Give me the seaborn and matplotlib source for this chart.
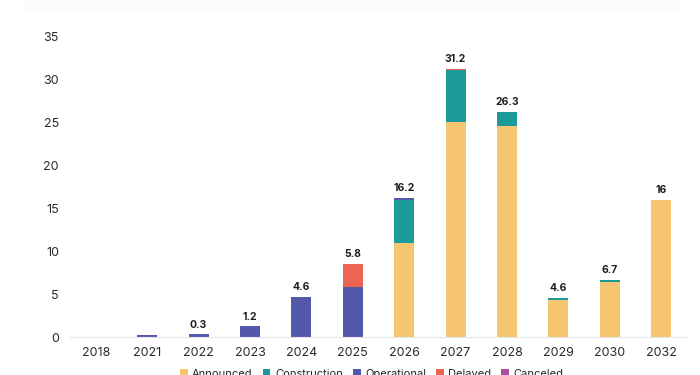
import numpy as np
import pandas as pd
import matplotlib
matplotlib.use("Agg")
import matplotlib.pyplot as plt
import seaborn as sns
from matplotlib.patches import Patch, Rectangle

years = ['2018', '2021', '2022', '2023', '2024', '2025', '2026', '2027', '2028', '2029', '2030', '2032']
announced = [0, 0, 0, 0, 0, 0, 11.0, 25.1, 24.6, 4.35, 6.4, 16.0]
construction = [0, 0, 0, 0, 0, 0, 5.0, 6.0, 1.7, 0.25, 0.3, 0]
operational = [0, 0.2, 0.3, 1.25, 4.65, 5.8, 0.2, 0, 0, 0, 0, 0]
delayed = [0, 0, 0, 0, 0, 2.7, 0, 0.15, 0, 0, 0, 0]
canceled = [0, 0, 0, 0, 0, 0, 0, 0, 0, 0, 0, 0]
total_labels = ['', '', '0.3', '1.2', '4.6', '5.8', '16.2', '31.2', '26.3', '4.6', '6.7', '16']

series_names = ['Announced', 'Construction', 'Operational', 'Delayed', 'Canceled']
colors = ['#F5C66F', '#1B9A9C', '#5458A8', '#EE6452', '#A8509E']

sns.set_theme(style="white")
plt.rcParams['font.family'] = ['Inter', 'DejaVu Sans']

df = pd.DataFrame({'year': years, 'Announced': announced, 'Construction': construction,
                   'Operational': operational, 'Delayed': delayed, 'Canceled': canceled})
cum = df[series_names].cumsum(axis=1)

fig = plt.figure(figsize=(7, 3.75), dpi=100)
fig.patches.append(Rectangle((25 / 700, 1 - 10 / 375), 655 / 700, 10 / 375,
                             transform=fig.transFigure, facecolor='#FAFCFC',
                             edgecolor='none', zorder=0))
ax = fig.add_axes([70 / 700, 1 - 337 / 375, 617 / 700, 300 / 375])

# draw cumulative layers from top-most to bottom so that they stack visually
for name, col in reversed(list(zip(series_names, colors))):
    sns.barplot(x=df['year'], y=cum[name], color=col, width=0.39, ax=ax,
                saturation=1, linewidth=0, order=years)

for i, lab in enumerate(total_labels):
    if lab:
        top = cum['Canceled'].iloc[i]
        ax.text(i, top + 0.55, lab, ha='center', va='bottom', fontsize=7.5,
                fontweight='bold', color='#1E1E1E')

ax.set_ylim(0, 35)
ax.set_xlim(-0.5, 11.5)
ax.set_yticks([0, 5, 10, 15, 20, 25, 30, 35])
ax.set_xlabel('')
ax.set_ylabel('')
for s in ['top', 'right', 'left']:
    ax.spines[s].set_visible(False)
ax.spines['bottom'].set_color('#E3E6EA')
ax.spines['bottom'].set_linewidth(0.8)
ax.tick_params(axis='both', length=0, labelsize=9, colors='#2A2A2A')
ax.tick_params(axis='y', pad=8)
ax.tick_params(axis='x', pad=7)

handles = [Patch(facecolor=c, edgecolor='none', label=n) for n, c in zip(series_names, colors)]
fig.legend(handles=handles, loc='center', bbox_to_anchor=(0.531, 0.002), ncol=5,
           frameon=False, fontsize=8, handlelength=0.7, handleheight=0.7,
           handletextpad=0.4, columnspacing=0.9)

fig.savefig('out.png', dpi=100)
